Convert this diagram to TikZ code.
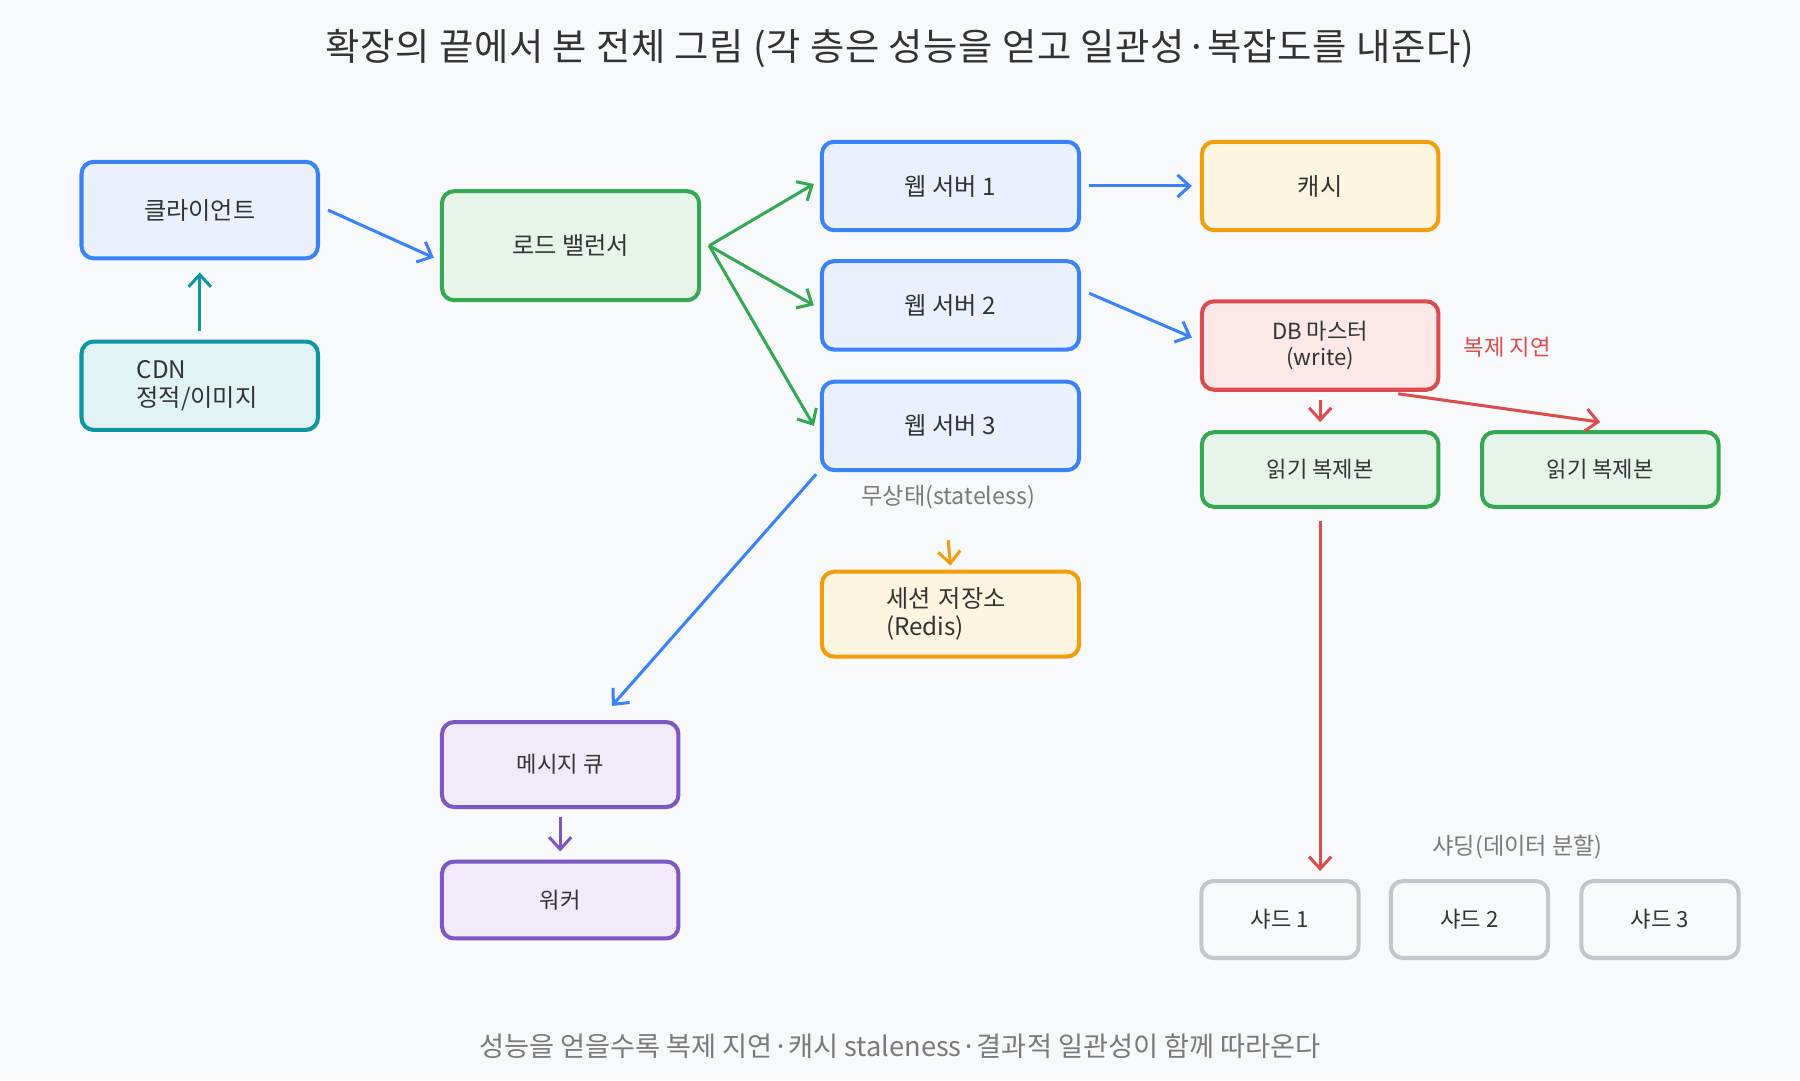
\documentclass[tikz,border=0pt]{standalone}
\usepackage{fontspec}
\setmainfont{Noto Sans CJK KR}
\usetikzlibrary{arrows.meta}
\definecolor{bgc}{HTML}{F8F9FB}
\definecolor{blu}{HTML}{3B82F6}\definecolor{bluf}{HTML}{EAF1FD}
\definecolor{tea}{HTML}{0E979F}\definecolor{teaf}{HTML}{E0F4F6}
\definecolor{grn}{HTML}{34A853}\definecolor{grnf}{HTML}{E6F4EA}
\definecolor{org}{HTML}{F29D0B}\definecolor{orgf}{HTML}{FEF5E0}
\definecolor{rd}{HTML}{DC4C4C}\definecolor{rdf}{HTML}{FCE8E8}
\definecolor{pur}{HTML}{7E57C2}\definecolor{purf}{HTML}{F0EAF9}
\definecolor{gry}{HTML}{C3C6CD}\definecolor{txt}{HTML}{333333}
\definecolor{sub}{HTML}{7A7A7A}
\tikzset{
  box/.style={draw, line width=2pt, rounded corners=6pt, font=\fontsize{12}{14}\selectfont, text=txt, align=center},
  bbox/.style={box, draw=blu, fill=bluf},
  arr/.style={line width=1.5pt, -{Straight Barb[length=6pt,width=11pt]}}
}
\begin{document}
\begin{tikzpicture}[x=0.02cm,y=-0.02cm]
\fill[bgc] (0,0) rectangle (1568,941);
\useasboundingbox (0,0) rectangle (1568,941);
\node[font=\fontsize{18.5}{20}\selectfont\addfontfeature{LetterSpace=2}, text=txt] (title) at (784,42) {확장의 끝에서 본 전체 그림 (각 층은 성능을 얻고 일관성·복잡도를 내준다)};
% client side
\node[bbox, minimum width=206*0.02cm, minimum height=84*0.02cm] (client) at (174,183) {클라이언트};
\node[box, draw=tea, fill=teaf, minimum width=206*0.02cm, minimum height=77*0.02cm, align=left, text width=110*0.02cm] (cdn) at (174,336) {CDN\\정적/이미지};
\node[box, draw=grn, fill=grnf, minimum width=224*0.02cm, minimum height=95*0.02cm] (lb) at (497,214) {로드 밸런서};
% web tier
\node[bbox, minimum width=224*0.02cm, minimum height=77*0.02cm] (web1) at (828,162) {웹 서버 1};
\node[bbox, minimum width=224*0.02cm, minimum height=77*0.02cm] (web2) at (828,266) {웹 서버 2};
\node[bbox, minimum width=224*0.02cm, minimum height=77*0.02cm] (web3) at (828,371) {웹 서버 3};
\node[font=\fontsize{11.5}{13}\selectfont, text=sub] (stateless) at (826,433) {무상태(stateless)};
\node[box, draw=org, fill=orgf, minimum width=224*0.02cm, minimum height=74*0.02cm, align=left, text width=112*0.02cm] (session) at (828,535) {세션 저장소\\(Redis)};
% data tier
\node[box, draw=org, fill=orgf, minimum width=206*0.02cm, minimum height=77*0.02cm] (cache) at (1150,162) {캐시};
\node[box, draw=rd, fill=rdf, minimum width=206*0.02cm, minimum height=77*0.02cm, font=\fontsize{11}{13}\selectfont] (db) at (1150,301) {DB 마스터\\(write)};
\node[font=\fontsize{11}{13}\selectfont, text=rd] (lag) at (1313,302) {복제 지연};
\node[box, draw=grn, fill=grnf, minimum width=206*0.02cm, minimum height=65*0.02cm, font=\fontsize{11}{13}\selectfont] (rep1) at (1150,409) {읽기 복제본};
\node[box, draw=grn, fill=grnf, minimum width=206*0.02cm, minimum height=65*0.02cm, font=\fontsize{11}{13}\selectfont] (rep2) at (1394,409) {읽기 복제본};
\node[font=\fontsize{11.5}{13}\selectfont, text=sub] (shardlbl) at (1322,738) {샤딩(데이터 분할)};
\foreach \i/\x in {1/1115,2/1280,3/1446}
  \node[box, draw=gry, fill=bgc, minimum width=137*0.02cm, minimum height=67*0.02cm, font=\fontsize{11}{13}\selectfont] (shard\i) at (\x,801) {샤드 \i};
% async
\node[box, draw=pur, fill=purf, minimum width=206*0.02cm, minimum height=74*0.02cm, font=\fontsize{11}{13}\selectfont] (mq) at (488,666) {메시지 큐};
\node[box, draw=pur, fill=purf, minimum width=206*0.02cm, minimum height=67*0.02cm, font=\fontsize{11}{13}\selectfont] (worker) at (488,784) {워커};
\node[font=\fontsize{13.5}{15}\selectfont, text=sub] (foot) at (784,911) {성능을 얻을수록 복제 지연·캐시 staleness·결과적 일관성이 함께 따라온다};
% connectors
\draw[arr, blu] ([xshift=4pt]client.east) -- ([shift={(-3pt,-6pt)}]lb.west);
\draw[arr, tea] ([yshift=4pt]cdn.north) -- ([yshift=-6pt]client.south);
\draw[arr, grn] ([xshift=4pt]lb.east) -- ([shift={(-3pt,1pt)}]web1.west);
\draw[arr, grn] ([xshift=4pt]lb.east) -- ([shift={(-3pt,0pt)}]web2.west);
\draw[arr, grn] ([xshift=4pt]lb.east) -- ([shift={(-3pt,0pt)}]web3.west);
\draw[arr, blu] ([xshift=4pt]web1.east) -- ([xshift=-4pt]cache.west);
\draw[arr, blu] ([shift={(4pt,6pt)}]web2.east) -- ([shift={(-4pt,4pt)}]db.west);
\draw[arr, rd] ([yshift=-4pt]db.south) -- ([yshift=4pt]rep1.north);
\draw[arr, rd] ([shift={(68*0.02cm,-1pt)}]db.south) -- ([yshift=4pt]rep2.north);
\draw[arr, rd] ([yshift=-6pt]rep1.south) -- ([shift={(35*0.02cm,4pt)}]shard1.north);
\draw[arr, blu] ([shift={(-117*0.02cm,-1pt)}]web3.south) -- ([shift={(45*0.02cm,7pt)}]mq.north);
\draw[arr, org] ([yshift=-12pt]stateless.south) -- ([yshift=2pt]session.north);
\draw[arr, pur] ([yshift=-4pt]mq.south) -- ([yshift=4pt]worker.north);
\end{tikzpicture}
\end{document}
